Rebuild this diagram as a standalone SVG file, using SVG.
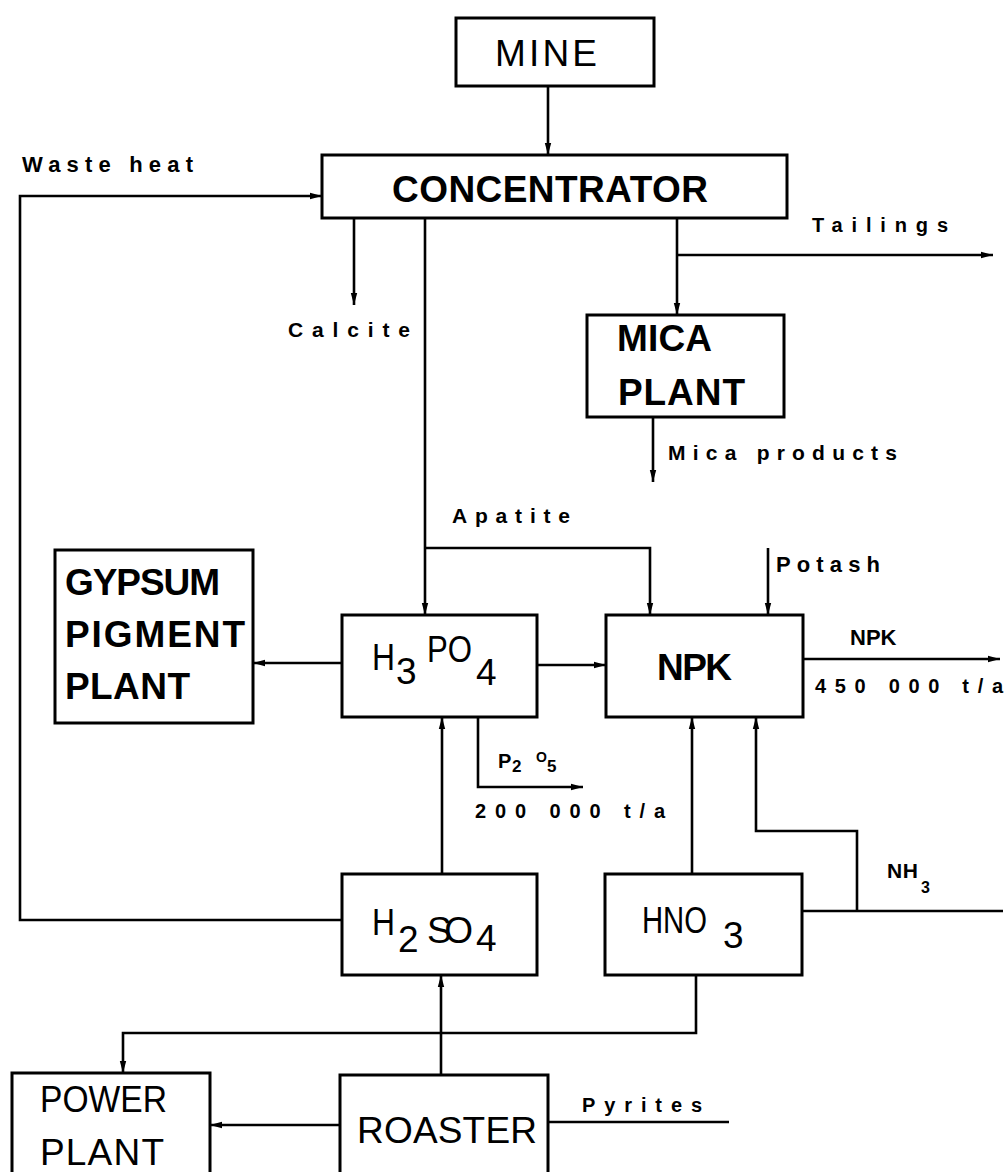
<svg xmlns="http://www.w3.org/2000/svg" width="1005" height="1172" viewBox="0 0 1005 1172">
<defs>
<marker id="arr" markerUnits="userSpaceOnUse" markerWidth="13" markerHeight="8" refX="12" refY="4" orient="auto">
<path d="M0,0.8 L12,4 L0,7.2 z" fill="#000"/>
</marker>
<style>
.box{fill:#fff;stroke:#000;stroke-width:3}
.c{fill:none;stroke:#000;stroke-width:2.6}
.bt{font-family:"Liberation Sans",Arial,sans-serif;font-size:37px;fill:#000}
.b{font-weight:bold}
.lb{font-family:"Liberation Sans",Arial,sans-serif;font-weight:bold;fill:#000}
</style>
</defs>
<rect width="1005" height="1172" fill="#fff"/>
<g id="connectors">
<path class="c" d="M548,86 V155" marker-end="url(#arr)"/>
<path class="c" d="M342,920 H20 V196 H322" marker-end="url(#arr)"/>
<path class="c" d="M354,218 V305" marker-end="url(#arr)"/>
<path class="c" d="M425,218 V615" marker-end="url(#arr)"/>
<path class="c" d="M425,548 H650 V615" marker-end="url(#arr)"/>
<path class="c" d="M677,218 V315" marker-end="url(#arr)"/>
<path class="c" d="M677,255 H993" marker-end="url(#arr)"/>
<path class="c" d="M653,417 V482" marker-end="url(#arr)"/>
<path class="c" d="M768,548 V615" marker-end="url(#arr)"/>
<path class="c" d="M342,663 H253" marker-end="url(#arr)"/>
<path class="c" d="M537,665 H606" marker-end="url(#arr)"/>
<path class="c" d="M803,659 H1000" marker-end="url(#arr)"/>
<path class="c" d="M478,717 V787 H583" marker-end="url(#arr)"/>
<path class="c" d="M442,874 V717" marker-end="url(#arr)"/>
<path class="c" d="M692,874 V717" marker-end="url(#arr)"/>
<path class="c" d="M1003,911 H802"/>
<path class="c" d="M857,911 V831 H756 V717" marker-end="url(#arr)"/>
<path class="c" d="M696,975 V1033 H123 V1073" marker-end="url(#arr)"/>
<path class="c" d="M441,1075 V975" marker-end="url(#arr)"/>
<path class="c" d="M340,1125 H210" marker-end="url(#arr)"/>
<path class="c" d="M729,1122 H548"/>
</g>
<g id="mine">
<rect class="box" x="456" y="18" width="198" height="68"/>
<text class="bt" x="495" y="66" font-size="39" textLength="102" lengthAdjust="spacing">MINE</text>
</g>
<g id="concentrator">
<rect class="box" x="322" y="155" width="465" height="63"/>
<text class="bt b" x="392" y="202" font-size="36" textLength="316" lengthAdjust="spacing">CONCENTRATOR</text>
</g>
<g id="mica-plant">
<rect class="box" x="587" y="315" width="197" height="102"/>
<text class="bt b" x="617" y="351" textLength="95" lengthAdjust="spacing">MICA</text>
<text class="bt b" x="618" y="405" textLength="127" lengthAdjust="spacing">PLANT</text>
</g>
<g id="gypsum">
<rect class="box" x="55" y="550" width="198" height="173"/>
<text class="bt b" x="65" y="595" font-size="35" textLength="155" lengthAdjust="spacing">GYPSUM</text>
<text class="bt b" x="65" y="647" font-size="35" textLength="180" lengthAdjust="spacing">PIGMENT</text>
<text class="bt b" x="65" y="699" font-size="35" textLength="125" lengthAdjust="spacing">PLANT</text>
</g>
<g id="h3po4">
<rect class="box" x="342" y="615" width="195" height="102"/>
<text class="bt" x="372" y="670" font-size="38" textLength="23" lengthAdjust="spacingAndGlyphs">H</text>
<text class="bt" x="396" y="684" font-size="25">3</text>
<text class="bt" x="427" y="662" font-size="37" textLength="45" lengthAdjust="spacingAndGlyphs">PO</text>
<text class="bt" x="476" y="685" font-size="25">4</text>
</g>
<g id="npk">
<rect class="box" x="606" y="615" width="197" height="102"/>
<text class="bt b" x="657" y="680" textLength="75" lengthAdjust="spacing">NPK</text>
</g>
<g id="h2so4">
<rect class="box" x="342" y="874" width="195" height="101"/>
<text class="bt" x="372" y="935" font-size="37" textLength="23" lengthAdjust="spacingAndGlyphs">H</text>
<text class="bt" x="398" y="952" font-size="27">2</text>
<text class="bt" x="427" y="943" font-size="28" textLength="46" lengthAdjust="spacing">SO</text>
<text class="bt" x="476" y="951" font-size="27">4</text>
</g>
<g id="hno3">
<rect class="box" x="605" y="874" width="197" height="101"/>
<text class="bt" x="642" y="933" font-size="35" textLength="65" lengthAdjust="spacingAndGlyphs">HNO</text>
<text class="bt" x="723" y="948" font-size="29">3</text>
</g>
<g id="power-plant">
<rect class="box" x="12" y="1073" width="198" height="115"/>
<text class="bt" x="40" y="1112" font-size="35" textLength="127" lengthAdjust="spacingAndGlyphs">POWER</text>
<text class="bt" x="40" y="1165" font-size="36" textLength="124" lengthAdjust="spacing">PLANT</text>
</g>
<g id="roaster">
<rect class="box" x="340" y="1075" width="208" height="115"/>
<text class="bt" x="357" y="1143" textLength="180" lengthAdjust="spacing">ROASTER</text>
</g>
<g id="labels">
<text class="lb" x="22" y="172" font-size="22" textLength="171" lengthAdjust="spacing">Waste heat</text>
<text class="lb" x="288" y="337" font-size="21" textLength="122" lengthAdjust="spacing">Calcite</text>
<text class="lb" x="812" y="232" font-size="20" textLength="136" lengthAdjust="spacing">Tailings</text>
<text class="lb" x="668" y="460" font-size="21" textLength="229" lengthAdjust="spacing">Mica products</text>
<text class="lb" x="452" y="523" font-size="21" textLength="118" lengthAdjust="spacing">Apatite</text>
<text class="lb" x="776" y="572" font-size="22" textLength="104" lengthAdjust="spacing">Potash</text>
<text class="lb" x="850" y="645" font-size="22">NPK</text>
<text class="lb" x="815" y="693" font-size="20" textLength="188" lengthAdjust="spacing">450 000 t/a</text>
<text class="lb" x="498" y="768" font-size="20" font-weight="normal">P</text>
<text class="lb" x="512" y="772" font-size="17" font-weight="normal">2</text>
<text class="lb" x="536" y="762" font-size="14" font-weight="normal">O</text>
<text class="lb" x="547" y="772" font-size="17" font-weight="normal">5</text>
<text class="lb" x="475" y="818" font-size="20" textLength="190" lengthAdjust="spacing">200 000 t/a</text>
<text class="lb" x="887" y="878" font-size="21" textLength="31" lengthAdjust="spacing">NH</text>
<text class="lb" x="921" y="893" font-size="16" font-weight="normal">3</text>
<text class="lb" x="582" y="1112" font-size="20" textLength="120" lengthAdjust="spacing">Pyrites</text>
</g>
</svg>
